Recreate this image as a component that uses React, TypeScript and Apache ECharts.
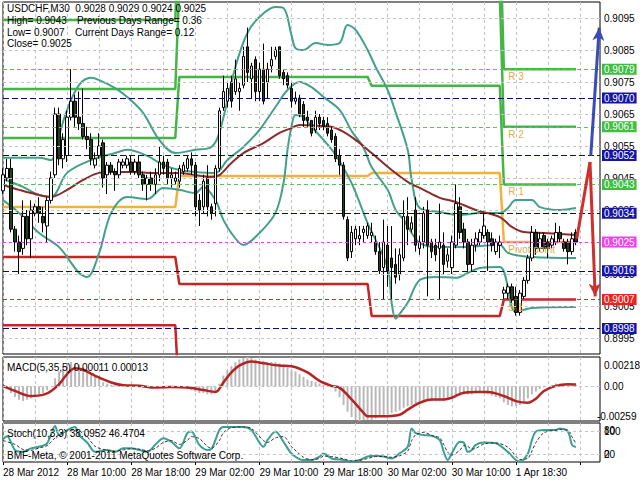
import React, { useEffect, useRef } from "react";
import * as echarts from "echarts";

const FONT = "'Liberation Sans', Arial, sans-serif";

// ---------- price bars (USDCHF M30) ----------
const opens = [
  0.9041, 0.9045, 0.9048, 0.9029, 0.9025, 0.9023, 0.9033, 0.9026, 0.9034, 0.9036,
  0.9033, 0.9030, 0.9038, 0.9046, 0.9065, 0.9051, 0.9052, 0.9064, 0.9069, 0.9064,
  0.9062, 0.9058, 0.9057, 0.9049, 0.9052, 0.9056, 0.9046, 0.9049, 0.9047, 0.9046,
  0.9049, 0.9049, 0.9050, 0.9047, 0.9050, 0.9046, 0.9043, 0.9045, 0.9043, 0.9046,
  0.9050, 0.9050, 0.9045, 0.9044, 0.9044, 0.9047, 0.9048, 0.9051, 0.9049, 0.9038,
  0.9036, 0.9045, 0.9036, 0.9037, 0.9048, 0.9067, 0.9069, 0.9075, 0.9072, 0.9072,
  0.9074, 0.9086, 0.9076, 0.9082, 0.9072, 0.9079, 0.9075, 0.9080, 0.9083, 0.9086,
  0.9078, 0.9077, 0.9073, 0.9069, 0.9070, 0.9068, 0.9064, 0.9063, 0.9060, 0.9064,
  0.9063, 0.9062, 0.9060, 0.9058, 0.9052, 0.9049, 0.9032, 0.9022, 0.9026, 0.9026,
  0.9028, 0.9027, 0.9027, 0.9025, 0.9022, 0.9017, 0.9024, 0.9020, 0.9018, 0.9015,
  0.9020, 0.9033, 0.9029, 0.9035, 0.9023, 0.9025, 0.9035, 0.9025, 0.9024, 0.9023,
  0.9024, 0.9019, 0.9017, 0.9024, 0.9036, 0.9029, 0.9025, 0.9018, 0.9024, 0.9025,
  0.9027, 0.9028, 0.9026, 0.9022, 0.9024, 0.9009, 0.9009, 0.9011, 0.9008, 0.9003,
  0.9008, 0.9013, 0.9020, 0.9028, 0.9023, 0.9027, 0.9025, 0.9024, 0.9025, 0.9028,
  0.9025, 0.9025, 0.9022, 0.9028,
];
const closes = [
  0.9046, 0.9048, 0.9029, 0.9025, 0.9022, 0.9033, 0.9026, 0.9035, 0.9036, 0.9034,
  0.9031, 0.9038, 0.9045, 0.9065, 0.9051, 0.9057, 0.9064, 0.9069, 0.9064, 0.9062,
  0.9058, 0.9057, 0.9051, 0.9051, 0.9055, 0.9045, 0.9049, 0.9047, 0.9046, 0.9050,
  0.9050, 0.9051, 0.9047, 0.9050, 0.9046, 0.9043, 0.9045, 0.9043, 0.9046, 0.9050,
  0.9048, 0.9045, 0.9046, 0.9045, 0.9048, 0.9049, 0.9051, 0.9049, 0.9036, 0.9035,
  0.9044, 0.9036, 0.9034, 0.9048, 0.9066, 0.9072, 0.9073, 0.9069, 0.9076, 0.9073,
  0.9083, 0.9078, 0.9080, 0.9072, 0.9079, 0.9069, 0.9079, 0.9082, 0.9085, 0.9077,
  0.9076, 0.9074, 0.9069, 0.9070, 0.9065, 0.9063, 0.9063, 0.9059, 0.9064, 0.9062,
  0.9061, 0.9059, 0.9057, 0.9051, 0.9049, 0.9033, 0.9020, 0.9028, 0.9029, 0.9027,
  0.9029, 0.9030, 0.9028, 0.9022, 0.9016, 0.9025, 0.9016, 0.9017, 0.9014, 0.9021,
  0.9033, 0.9029, 0.9031, 0.9024, 0.9025, 0.9034, 0.9024, 0.9022, 0.9021, 0.9025,
  0.9018, 0.9021, 0.9025, 0.9037, 0.9028, 0.9025, 0.9018, 0.9024, 0.9026, 0.9028,
  0.9030, 0.9025, 0.9024, 0.9025, 0.9025, 0.9010, 0.9011, 0.9007, 0.9003, 0.9009,
  0.9013, 0.9020, 0.9028, 0.9023, 0.9026, 0.9023, 0.9023, 0.9026, 0.9028, 0.9026,
  0.9023, 0.9022, 0.9026, 0.9025,
];
const lows = [
  0.9040, 0.9044, 0.9028, 0.9022, 0.9015, 0.9021, 0.9024, 0.9020, 0.9033, 0.9031,
  0.9028, 0.9025, 0.9037, 0.9045, 0.9049, 0.9048, 0.9050, 0.9063, 0.9061, 0.9060,
  0.9057, 0.9054, 0.9049, 0.9048, 0.9051, 0.9042, 0.9040, 0.9046, 0.9041, 0.9045,
  0.9048, 0.9048, 0.9046, 0.9046, 0.9045, 0.9041, 0.9038, 0.9041, 0.9040, 0.9044,
  0.9046, 0.9043, 0.9042, 0.9043, 0.9042, 0.9046, 0.9047, 0.9046, 0.9033, 0.9030,
  0.9034, 0.9033, 0.9032, 0.9033, 0.9047, 0.9066, 0.9067, 0.9067, 0.9071, 0.9066,
  0.9073, 0.9075, 0.9070, 0.9069, 0.9069, 0.9068, 0.9070, 0.9078, 0.9082, 0.9076,
  0.9074, 0.9073, 0.9067, 0.9068, 0.9064, 0.9061, 0.9061, 0.9058, 0.9059, 0.9060,
  0.9060, 0.9058, 0.9056, 0.9050, 0.9046, 0.9032, 0.9019, 0.9020, 0.9024, 0.9024,
  0.9025, 0.9026, 0.9025, 0.9021, 0.9015, 0.9007, 0.9011, 0.9007, 0.9012, 0.9013,
  0.9019, 0.9024, 0.9028, 0.9022, 0.9021, 0.9023, 0.9008, 0.9020, 0.9019, 0.9007,
  0.9015, 0.9017, 0.9015, 0.9023, 0.9026, 0.9023, 0.9016, 0.9016, 0.9022, 0.9024,
  0.9026, 0.9016, 0.9022, 0.9021, 0.9020, 0.9007, 0.9007, 0.9006, 0.9002, 0.9002,
  0.9007, 0.9012, 0.9019, 0.9021, 0.9022, 0.9022, 0.9020, 0.9023, 0.9024, 0.9025,
  0.9022, 0.9018, 0.9021, 0.9024,
];
const highs = [
  0.9048, 0.9051, 0.9051, 0.9030, 0.9027, 0.9038, 0.9035, 0.9038, 0.9037, 0.9039,
  0.9036, 0.9039, 0.9047, 0.9067, 0.9067, 0.9059, 0.9066, 0.9079, 0.9071, 0.9072,
  0.9073, 0.9061, 0.9059, 0.9053, 0.9059, 0.9057, 0.9050, 0.9050, 0.9048, 0.9051,
  0.9051, 0.9052, 0.9052, 0.9051, 0.9052, 0.9047, 0.9046, 0.9047, 0.9048, 0.9055,
  0.9052, 0.9051, 0.9048, 0.9047, 0.9049, 0.9050, 0.9052, 0.9053, 0.9050, 0.9040,
  0.9046, 0.9049, 0.9037, 0.9049, 0.9067, 0.9077, 0.9075, 0.9077, 0.9082, 0.9075,
  0.9086, 0.9092, 0.9081, 0.9083, 0.9081, 0.9087, 0.9081, 0.9086, 0.9086, 0.9086,
  0.9079, 0.9078, 0.9075, 0.9072, 0.9071, 0.9069, 0.9066, 0.9063, 0.9066, 0.9065,
  0.9064, 0.9064, 0.9061, 0.9059, 0.9054, 0.9050, 0.9033, 0.9030, 0.9030, 0.9030,
  0.9030, 0.9031, 0.9031, 0.9027, 0.9025, 0.9032, 0.9030, 0.9030, 0.9023, 0.9023,
  0.9038, 0.9039, 0.9033, 0.9039, 0.9027, 0.9036, 0.9038, 0.9026, 0.9026, 0.9037,
  0.9028, 0.9023, 0.9027, 0.9043, 0.9039, 0.9031, 0.9026, 0.9026, 0.9028, 0.9029,
  0.9034, 0.9029, 0.9028, 0.9026, 0.9027, 0.9011, 0.9012, 0.9012, 0.9011, 0.9010,
  0.9014, 0.9021, 0.9030, 0.9029, 0.9028, 0.9028, 0.9026, 0.9027, 0.9031, 0.9030,
  0.9026, 0.9026, 0.9028, 0.9029,
];

// ---------- indicators on the price panel: [bar, price] ----------
const bbUpper = [
  [0, 0.90513], [9, 0.90513], [12, 0.90506], [14, 0.90584], [16, 0.90663], [19, 0.90741],
  [22, 0.90763], [24, 0.90756], [28, 0.90731], [31, 0.90703], [35, 0.90653], [39, 0.90569],
  [43, 0.90528], [48, 0.90538], [52, 0.90547], [54, 0.90591], [58, 0.90797], [61, 0.90903],
  [64, 0.90953], [68, 0.90984], [70, 0.90981], [72, 0.90897], [73, 0.90856], [75, 0.9085],
  [78, 0.90872], [81, 0.90866], [84, 0.90872], [86, 0.90928], [88, 0.90913], [91, 0.9085],
  [93, 0.90797], [96, 0.90725], [98, 0.90655], [101, 0.90538], [102, 0.90444], [104, 0.90356],
  [109, 0.90344], [114, 0.90334], [119, 0.90341], [124, 0.90341], [126, 0.90356], [128, 0.90381],
  [132, 0.90381], [134, 0.90359], [139, 0.9035], [143, 0.90356],
];
const bbMiddle = [
  [0, 0.90447], [5, 0.90422], [9, 0.90397], [12, 0.90391], [16, 0.90466], [22, 0.90506],
  [28, 0.90528], [31, 0.90538], [36, 0.90519], [40, 0.90491], [44, 0.90475], [48, 0.90469],
  [53, 0.90466], [56, 0.90506], [60, 0.90547], [64, 0.906], [68, 0.90672], [71, 0.90725],
  [74, 0.9075], [77, 0.90734], [80, 0.90703], [84, 0.90663], [87, 0.90597], [90, 0.90544],
  [92, 0.90484], [96, 0.90413], [98, 0.9035], [100, 0.90319], [102, 0.90278], [104, 0.90247],
  [108, 0.90234], [114, 0.90234], [124, 0.90241], [126, 0.90216], [132, 0.90203], [143, 0.902],
];
const bbLower = [
  [0, 0.90381], [4, 0.90341], [9, 0.90278], [14, 0.90234], [19, 0.90153], [21, 0.90141],
  [24, 0.90216], [27, 0.90341], [31, 0.90391], [36, 0.90384], [40, 0.90419], [44, 0.90413],
  [48, 0.90403], [50, 0.90422], [53, 0.90381], [55, 0.90319], [57, 0.90278], [60, 0.90241],
  [64, 0.90278], [68, 0.90341], [70, 0.90434], [71, 0.90538], [72, 0.9061], [73, 0.90647],
  [75, 0.90641], [77, 0.9061], [80, 0.90569], [83, 0.90522], [87, 0.90434], [91, 0.90309],
  [96, 0.9017], [97, 0.9006], [98, 0.9001], [99, 0.90025], [101, 0.9006], [104, 0.90131],
  [108, 0.90141], [113, 0.90138], [116, 0.90153], [119, 0.90169], [124, 0.90172], [128, 0.90031],
  [132, 0.90044], [143, 0.90047],
];
const maLine = [
  [0, 0.90428], [4, 0.90413], [7, 0.90403], [12, 0.90391], [16, 0.90413], [20, 0.90444],
  [24, 0.90466], [28, 0.90469], [32, 0.90469], [37, 0.90466], [44, 0.90466], [48, 0.90459],
  [52, 0.90453], [54, 0.90459], [57, 0.90497], [60, 0.90528], [65, 0.90559], [69, 0.90591],
  [72, 0.90606], [74, 0.90616], [79, 0.90613], [82, 0.9061], [85, 0.90594], [88, 0.90569],
  [92, 0.90528], [97, 0.90475], [101, 0.90438], [105, 0.90413], [109, 0.90388], [113, 0.90375],
  [118, 0.9035], [124, 0.90328], [127, 0.90297], [130, 0.90281], [135, 0.90278], [143, 0.90272],
];

// ---------- daily pivots (one value per trading day) ----------
const dayStarts = [0, 44, 92, 125];
const r3Days = [0.90944, 0.913, 0.9125, 0.9079];
const r2Days = [0.90728, 0.9105, 0.9102, 0.9061];
const r1Days = [0.90575, 0.90766, 0.90738, 0.9043];
const pDays = [0.90359, 0.90456, 0.90466, 0.9025];
const s1Days = [0.90203, 0.90119, 0.90019, 0.9007];
const s2Days = [0.8999, 0.8975, 0.897, 0.8985];

// current-day levels drawn across the chart
const greenLevels = [0.9079, 0.9061, 0.9043];
const navyLevels = [0.907, 0.9052, 0.9034, 0.9016, 0.8998];
const pivotLevel = 0.9025;
const s1Level = 0.9007;

// projection arrows: [bar, price]
const blueArrow = [[146.7, 0.9052], [148.8, 0.9092]];
const redArrow = [[143.2, 0.9026], [146.5, 0.905], [147.8, 0.9008]];

// ---------- MACD(5,35,5) ----------
const macdHist = [
  0.0, -0.0002, -0.0005, -0.0008, -0.001, -0.0011, -0.001, -0.0009, -0.0007, -0.0006,
  -0.0005, -0.0003, 0.0, 0.0006, 0.0011, 0.0015, 0.0017, 0.0018, 0.0017, 0.0016,
  0.0014, 0.0012, 0.001, 0.0007, 0.0006, 0.0003, 0.0002, 0.0001, 0.0001, 0.0001,
  0.0001, 0.0001, 0.0, 0.0, -0.0001, -0.0001, -0.0001, -0.0001, 0.0, 0.0,
  -0.0001, -0.0001, -0.0001, -0.0001, -0.0001, -0.0001, -0.0002, -0.0003, -0.0004, -0.0005,
  -0.0005, -0.0006, -0.0006, -0.0005, 0.0002, 0.0008, 0.0012, 0.0015, 0.0018, 0.002,
  0.0021, 0.00218, 0.0021, 0.002, 0.0019, 0.0019, 0.0018, 0.0018, 0.0018, 0.0017,
  0.0016, 0.0014, 0.0012, 0.0011, 0.0009, 0.0007, 0.0005, 0.0004, 0.0003, 0.0002,
  0.0001, 0.0, -0.0001, -0.0004, -0.0008, -0.0014, -0.0019, -0.0023, -0.0025, -0.00259,
  -0.0025, -0.0025, -0.0025, -0.0024, -0.0023, -0.0022, -0.0021, -0.002, -0.0019, -0.0018,
  -0.0016, -0.0015, -0.0014, -0.0013, -0.0012, -0.0011, -0.0011, -0.0011, -0.0011, -0.0011,
  -0.0011, -0.001, -0.0009, -0.0007, -0.0006, -0.0006, -0.0006, -0.0006, -0.0005, -0.0005,
  -0.0005, -0.0006, -0.0007, -0.0008, -0.0009, -0.0012, -0.0014, -0.0015, -0.0015, -0.0014,
  -0.0012, -0.0009, -0.0006, -0.0004, -0.0002, -0.0001, 0.0, 0.0001, 0.0002, 0.0002,
  0.0002, 0.0002, 0.0001, 0.00011,
];
const macdSignal = [
  [0, 0.00003], [3, -0.00035], [7, -0.00073], [11, -0.00053], [14, 0.00015], [16, 0.00091],
  [18, 0.00134], [20, 0.00123], [23, 0.00078], [27, 0.00028], [30, 0.00008], [34, 0.00003],
  [38, -0.0001], [42, -0.00005], [46, -0.0001], [50, -0.00028], [53, -0.00043], [55, 0.00028],
  [57, 0.00103], [59, 0.00154], [62, 0.00184], [65, 0.00171], [69, 0.00154], [72, 0.00149],
  [76, 0.00103], [79, 0.0004], [82, 0.00003], [84, -0.0001], [87, -0.00098], [90, -0.00199],
  [91, -0.00224], [94, -0.00224], [99, -0.00212], [101, -0.00174], [104, -0.00123], [107, -0.00098],
  [110, -0.00098], [112, -0.00086], [115, -0.00048], [118, -0.00043], [121, -0.00043], [125, -0.00073],
  [128, -0.00111], [131, -0.00123], [133, -0.00093], [135, -0.00035], [138, 0.00003], [141, 0.00015],
  [143, 0.00013],
];
// window range (min, zero, max) and the texts MT4 prints for it
const macdRange = [-0.00259, 0, 0.00218];
const macdRangeText = ["-0.00259", "0.00", "0.00218"];
// where those texts sit (MT4 prints min/max just inside the window edge)
const macdTextAt = [-0.00222, 0, 0.00151];

// ---------- Stochastic(10,3,3) ----------
const stochMain = [
  [0, 58], [1, 66], [3, 31], [5, 26], [7, 35], [9, 39], [11, 48], [13, 92], [14, 69], [16, 82],
  [18, 90], [19, 69], [21, 50], [23, 26], [26, 31], [28, 26], [30, 35], [32, 35], [34, 31],
  [36, 26], [38, 44], [40, 61], [42, 52], [44, 35], [46, 74], [47, 78], [49, 44], [51, 31],
  [52, 33], [54, 82], [55, 90], [57, 90], [60, 90], [62, 82], [65, 39], [66, 56], [68, 78],
  [70, 52], [72, 22], [75, 5], [77, 5], [79, 14], [80, 22], [82, 9], [85, 5], [87, 1], [89, 5],
  [91, 14], [93, 16], [95, 14], [97, 9], [99, 22], [101, 39], [102, 86], [103, 74], [105, 69],
  [107, 67], [109, 56], [110, 26], [111, 5], [112, 22], [114, 52], [115, 50], [116, 26], [117, 31],
  [118, 44], [120, 50], [123, 48], [126, 26], [128, 5], [129, 1], [131, 22], [132, 56], [133, 78],
  [135, 82], [138, 82], [139, 86], [141, 78], [142, 44], [143, 38.0952],
];
const stochSignal = [
  [0, 55], [3, 45], [5, 32], [7, 30], [9, 36], [11, 42], [13, 62], [14, 70], [16, 80], [18, 82],
  [19, 80], [21, 65], [23, 40], [26, 30], [28, 28], [30, 31], [32, 34], [34, 33], [36, 29],
  [38, 35], [40, 50], [42, 55], [44, 45], [46, 55], [47, 65], [49, 60], [51, 40], [52, 35],
  [54, 55], [55, 75], [57, 88], [60, 90], [62, 86], [65, 55], [66, 50], [68, 62], [70, 65],
  [72, 40], [75, 12], [77, 6], [79, 9], [80, 15], [82, 14], [85, 8], [87, 3], [89, 4], [91, 9],
  [93, 14], [95, 14], [97, 12], [99, 16], [101, 28], [102, 55], [103, 70], [105, 76], [107, 68],
  [109, 62], [110, 45], [111, 25], [112, 18], [114, 30], [115, 42], [116, 40], [117, 33],
  [118, 35], [120, 46], [123, 49], [126, 38], [128, 15], [129, 6], [131, 10], [132, 28],
  [133, 50], [135, 75], [138, 82], [139, 83], [141, 82], [142, 65], [143, 46.4704],
];
const stochLevels = [20, 80];
const stochRangeText = ["0", "100"];
const stochTextAt = [18, 78];

// ---------- axis text ----------
const priceTicks = [0.8995, 0.9005, 0.9015, 0.9025, 0.9035, 0.9045, 0.9055, 0.9065, 0.9075, 0.9085, 0.9095];
const timeLabels = [
  "28 Mar 2012", "28 Mar 10:00", "28 Mar 18:00", "29 Mar 02:00", "29 Mar 10:00",
  "29 Mar 18:00", "30 Mar 02:00", "30 Mar 10:00", "1 Apr 18:30",
];
const headerLines = [
  "USDCHF,M30  0.9028 0.9029 0.9024 0.9025",
  "High= 0.9043",
  "Low= 0.9007",
  "Close= 0.9025",
];
const headerRight = ["Previous Days Range= 0.36", "Current Days Range= 0.12"];
const macdTitle = "MACD(5,35,5) 0.00011 0.00013";
const stochTitle = "Stoch(10,3,3) 38.0952 46.4704";
const copyright = "BMF-Meta, \u00a9 2001-2011 MetaQuotes Software Corp.";

// bar times (two trading sessions separated by the weekend)
const SLOTS = 150;
const MONTHS = ["Jan", "Feb", "Mar", "Apr"];
const pad2 = (n: number) => String(n).padStart(2, "0");
const categories: string[] = [];
for (let i = 0; i < SLOTS; i++) {
  const t = i < 125 ? Date.UTC(2012, 2, 28, 2, 0) + i * 1800000 : Date.UTC(2012, 3, 1, 17, 0) + (i - 125) * 1800000;
  const d = new Date(t);
  categories.push(`${d.getUTCDate()} ${MONTHS[d.getUTCMonth()]} ${pad2(d.getUTCHours())}:${pad2(d.getUTCMinutes())}`);
}

function expandDays(vals: number[]) {
  return opens.map((_, i) => {
    let d = 0;
    for (let k = 0; k < dayStarts.length; k++) if (i >= dayStarts[k]) d = k;
    return [i, vals[d]];
  });
}

function buildOption(): any {
  const gridLine = { color: "#c4c4c4", type: [3, 3], width: 1 };
  const hiddenLine = { color: "rgba(255,255,255,0)", width: 0 };
  const catAxis = (gridIndex: number, showLabels: boolean) => ({
    type: "category",
    gridIndex,
    data: categories,
    boundaryGap: false,
    axisLine: { show: false },
    axisTick: { show: showLabels, interval: 15, length: 3, lineStyle: { color: "#000" } },
    axisLabel: {
      show: showLabels,
      interval: 15,
      align: "left",
      margin: 5,
      color: "#000",
      fontSize: 10,
      fontFamily: FONT,
      formatter: (_v: string, i: number) => timeLabels[Math.round(i / 16)] ?? "",
    },
    splitLine: { show: true, interval: 7, lineStyle: gridLine },
  });
  const labelBase = { color: "#000", fontSize: 10, fontFamily: FONT };
  const teal = "#43a08a";
  const pivotLine = (name: string, vals: number[], color: string, width: number, tag?: string) => ({
    name,
    type: "line",
    xAxisIndex: 0,
    yAxisIndex: 0,
    data: expandDays(vals),
    symbol: "none",
    silent: true,
    z: 2,
    lineStyle: { color, width },
    markPoint: tag
      ? {
          symbol: "rect",
          symbolSize: 1,
          itemStyle: { color: "transparent" },
          label: { show: true, position: [1, 3], color: "#e2ad45", fontSize: 10, fontFamily: FONT, formatter: tag },
          data: [{ coord: [dayStarts[3] + 1, vals[3]] }],
        }
      : undefined,
  });

  return {
    animation: false,
    backgroundColor: "#ffffff",
    textStyle: { fontFamily: FONT },
    grid: [
      { left: 3, right: 40, top: 2, height: 352, show: true, borderColor: "#000", borderWidth: 1, backgroundColor: "#fff" },
      { left: 3, right: 40, top: 357, height: 64, show: true, borderColor: "#000", borderWidth: 1, backgroundColor: "#fff" },
      { left: 3, right: 40, top: 423, height: 39, show: true, borderColor: "#000", borderWidth: 1, backgroundColor: "#fff" },
      { left: 3, right: 40, top: 2, height: 352, show: false },
    ],
    xAxis: [
      catAxis(0, false),
      catAxis(1, false),
      catAxis(2, true),
      { type: "value", gridIndex: 3, min: 0, max: SLOTS - 1, show: false },
    ],
    yAxis: [
      {
        type: "value",
        gridIndex: 0,
        position: "right",
        min: 0.899,
        max: 0.91,
        splitLine: { show: false },
        axisLine: { show: false },
        axisTick: { show: false },
        axisLabel: { ...labelBase, margin: 4, customValues: priceTicks, formatter: (v: number) => v.toFixed(4) },
      },
      {
        type: "value",
        gridIndex: 1,
        position: "right",
        min: macdRange[0],
        max: macdRange[2],
        splitLine: { show: false },
        axisLine: { show: false },
        axisTick: { show: false },
        axisLabel: { show: false },
      },
      {
        type: "value",
        gridIndex: 2,
        position: "right",
        min: 0,
        max: 100,
        splitLine: { show: false },
        axisLine: { show: false },
        axisTick: { show: false },
        axisLabel: {
          ...labelBase,
          margin: 4,
          showMinLabel: true,
          showMaxLabel: true,
          hideOverlap: false,
          customValues: stochTextAt,
          formatter: (v: number) => (v > 50 ? stochRangeText[1] : stochRangeText[0]),
        },
      },
      { type: "value", gridIndex: 3, min: 0.899, max: 0.91, show: false },
    ],
    graphic: [
      ...headerLines.map((t, i) => ({
        type: "text",
        left: 7,
        top: [3, 15, 27, 38][i],
        z: 100,
        style: { text: t, fill: "#000", font: `10px ${FONT}` },
      })),
      ...headerRight.map((t, i) => ({
        type: "text",
        left: [77, 75][i],
        top: [15, 27][i],
        z: 100,
        style: { text: t, fill: "#000", font: `10px ${FONT}` },
      })),
      { type: "text", left: 7, top: 362, z: 100, style: { text: macdTitle, fill: "#000", font: `10px ${FONT}` } },
      { type: "text", left: 7, top: 428, z: 100, style: { text: stochTitle, fill: "#000", font: `10px ${FONT}` } },
      { type: "text", left: 7, top: 450, z: 100, style: { text: copyright, fill: "#000", font: `10px ${FONT}` } },
    ],
    series: [
      // horizontal price grid
      {
        type: "line",
        xAxisIndex: 0,
        yAxisIndex: 0,
        data: closes.map((c, i) => [i, c]),
        symbol: "none",
        silent: true,
        lineStyle: { opacity: 0 },
        z: 0,
        markLine: {
          silent: true,
          precision: 5,
          symbol: "none",
          label: { show: false },
          lineStyle: gridLine,
          data: priceTicks.map((v) => ({ yAxis: v })),
        },
      },
      // current-day levels with price boxes
      {
        type: "line",
        xAxisIndex: 0,
        yAxisIndex: 0,
        data: closes.map((c, i) => [i, c]),
        symbol: "none",
        silent: true,
        lineStyle: { opacity: 0 },
        z: 1,
        markLine: {
          silent: true,
          precision: 5,
          symbol: "none",
          label: {
            show: true,
            position: "end",
            distance: 2,
            color: "#fff",
            fontSize: 10,
            fontFamily: FONT,
            padding: [1, 2, 0, 2],
            formatter: (p: any) => Number(p.value).toFixed(4),
          },
          data: [
            ...greenLevels.map((v) => ({
              yAxis: v,
              lineStyle: { color: "#5cbf5c", type: [4, 3], width: 1 },
              label: { backgroundColor: "#3fbf3f" },
            })),
            ...navyLevels.map((v) => ({
              yAxis: v,
              lineStyle: { color: "#0b0b70", type: [6, 3], width: 1 },
              label: { backgroundColor: "#1414a8" },
            })),
            { yAxis: pivotLevel, lineStyle: { color: "#e045e0", type: [3, 3], width: 1 }, label: { backgroundColor: "#f040f0" } },
            { yAxis: s1Level, lineStyle: { color: "#c03030", type: [4, 3], width: 1 }, label: { backgroundColor: "#ee2020" } },
          ],
        },
      },
      pivotLine("R3", r3Days, "#45b545", 2.5, "R 3"),
      pivotLine("R2", r2Days, "#45b545", 2.5, "R 2"),
      pivotLine("R1", r1Days, "#45b545", 2.5, "R 1"),
      pivotLine("Pivot", pDays, "#f0b23c", 2.5, "Pivot point"),
      pivotLine("S1", s1Days, "#c82424", 2.5, "S 1"),
      pivotLine("S2", s2Days, "#c82424", 2.5),
      {
        name: "BB upper",
        type: "line",
        xAxisIndex: 0,
        yAxisIndex: 0,
        data: bbUpper,
        symbol: "none",
        smooth: 0.35,
        silent: true,
        z: 3,
        lineStyle: { color: teal, width: 2 },
      },
      {
        name: "BB middle",
        type: "line",
        xAxisIndex: 0,
        yAxisIndex: 0,
        data: bbMiddle,
        symbol: "none",
        smooth: 0.35,
        silent: true,
        z: 3,
        lineStyle: { color: teal, width: 2 },
      },
      {
        name: "BB lower",
        type: "line",
        xAxisIndex: 0,
        yAxisIndex: 0,
        data: bbLower,
        symbol: "none",
        smooth: 0.35,
        silent: true,
        z: 3,
        lineStyle: { color: teal, width: 2 },
      },
      {
        name: "MA",
        type: "line",
        xAxisIndex: 0,
        yAxisIndex: 0,
        data: maLine,
        symbol: "none",
        smooth: 0.35,
        silent: true,
        z: 3,
        lineStyle: { color: "#8a2b2b", width: 2 },
      },
      {
        name: "USDCHF",
        type: "candlestick",
        xAxisIndex: 0,
        yAxisIndex: 0,
        barWidth: 3,
        z: 4,
        silent: true,
        data: opens.map((o, i) => [o, closes[i], lows[i], highs[i]]),
        itemStyle: { color: "#ffffff", color0: "#22401f", borderColor: "#000", borderColor0: "#000", borderWidth: 1 },
      },
      // projection arrows
      {
        type: "line",
        xAxisIndex: 3,
        yAxisIndex: 3,
        data: [[0, 0.88]],
        symbol: "none",
        silent: true,
        lineStyle: { opacity: 0 },
        z: 6,
        markLine: {
          silent: true,
          precision: 5,
          symbolSize: [9, 13],
          label: { show: false },
          data: [
            [
              { coord: blueArrow[0], symbol: "none", lineStyle: { color: "#3a4cb4", width: 3, type: "solid" } },
              { coord: blueArrow[1], symbol: "arrow" },
            ],
            [
              { coord: redArrow[0], symbol: "none", lineStyle: { color: "#d0302c", width: 3, type: "solid" } },
              { coord: redArrow[1], symbol: "none" },
            ],
            [
              { coord: redArrow[1], symbol: "none", lineStyle: { color: "#d0302c", width: 3, type: "solid" } },
              { coord: redArrow[2], symbol: "arrow" },
            ],
          ],
        },
      },
      // MACD
      {
        name: "MACD",
        type: "bar",
        xAxisIndex: 1,
        yAxisIndex: 1,
        data: macdHist,
        barWidth: 2,
        silent: true,
        itemStyle: { color: "#b8b8b8" },
      },
      {
        name: "Signal",
        type: "line",
        xAxisIndex: 1,
        yAxisIndex: 1,
        data: macdSignal,
        symbol: "none",
        smooth: 0.35,
        silent: true,
        z: 3,
        lineStyle: { color: "#b52424", width: 2.5 },
        markLine: {
          silent: true,
          precision: 6,
          symbol: "none",
          label: {
            show: true,
            position: "end",
            distance: 4,
            color: "#000",
            fontSize: 10,
            fontFamily: FONT,
          },
          data: macdTextAt.map((v, i) => ({
            yAxis: v,
            lineStyle: i === 1 ? gridLine : hiddenLine,
            label: { formatter: macdRangeText[i], color: "#000", opacity: 1, distance: i === 0 ? -3 : 4 },
          })),
        },
      },
      // Stochastic
      {
        name: "Stoch main",
        type: "line",
        xAxisIndex: 2,
        yAxisIndex: 2,
        data: stochMain,
        symbol: "none",
        smooth: 0.3,
        silent: true,
        z: 3,
        lineStyle: { color: "#3c9e94", width: 2 },
        markLine: {
          silent: true,
          symbol: "none",
          label: {
            show: true,
            position: "end",
            distance: 4,
            color: "#000",
            fontSize: 10,
            fontFamily: FONT,
            formatter: (p: any) => String(Math.round(p.value)),
          },
          lineStyle: gridLine,
          data: stochLevels.map((v) => ({ yAxis: v })),
        },
      },
      {
        name: "Stoch signal",
        type: "line",
        xAxisIndex: 2,
        yAxisIndex: 2,
        data: stochSignal,
        symbol: "none",
        smooth: 0.3,
        silent: true,
        z: 3,
        lineStyle: { color: "#333", width: 1, type: [3, 2] },
      },
    ],
  };
}

export default function App() {
  const ref = useRef<HTMLDivElement>(null);
  useEffect(() => {
    if (!ref.current) return;
    const chart = echarts.init(ref.current, null, { renderer: "svg" });
    chart.setOption(buildOption());
    return () => chart.dispose();
  }, []);
  return (
    <div
      ref={ref}
      style={{ position: "fixed", left: 0, top: 0, width: 640, height: 480, background: "#fff" }}
    />
  );
}
